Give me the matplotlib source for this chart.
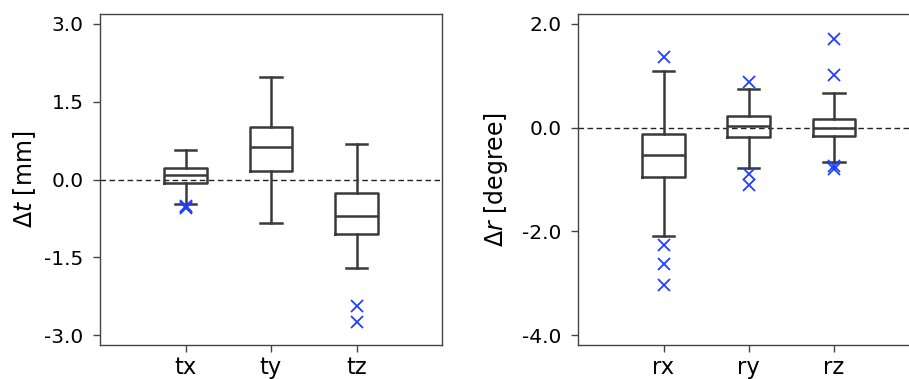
import matplotlib
matplotlib.use("Agg")
import matplotlib.pyplot as plt

# ---- data ----
t_labels = ["tx", "ty", "tz"]
t_q1 = [-0.07, 0.17, -1.06]
t_med = [0.08, 0.62, -0.70]
t_q3 = [0.23, 1.01, -0.26]
t_whislo = [-0.48, -0.83, -1.71]
t_whishi = [0.57, 1.97, 0.69]
t_fliers = [[-0.52, -0.53, -0.54], [], [-2.43, -2.75]]

r_labels = ["rx", "ry", "rz"]
r_q1 = [-0.96, -0.19, -0.17]
r_med = [-0.53, 0.04, -0.01]
r_q3 = [-0.12, 0.22, 0.17]
r_whislo = [-2.08, -0.78, -0.67]
r_whishi = [1.10, 0.74, 0.67]
r_fliers = [[1.36, -2.26, -2.63, -3.04], [0.87, -0.90, -1.11], [1.71, 1.02, -0.74, -0.79]]

t_yticks = [-3.0, -1.5, 0.0, 1.5, 3.0]
r_yticks = [-4.0, -2.0, 0.0, 2.0]

BOX_C = "#3a3a3a"
FLIER_C = "#1f40ff"


def make_stats(labels, q1, med, q3, lo, hi, fl):
    return [dict(label=l, q1=a, med=m, q3=b, whislo=w0, whishi=w1, fliers=f)
            for l, a, m, b, w0, w1, f in zip(labels, q1, med, q3, lo, hi, fl)]


def draw(ax, stats, yticks, ylim, ylabel, label_x):
    lp = dict(color=BOX_C, linewidth=1.8)
    ax.bxp(stats, positions=[1, 2, 3], widths=0.5,
           boxprops=lp, whiskerprops=lp, capprops=lp, medianprops=lp,
           flierprops=dict(marker="x", markeredgecolor=FLIER_C, markersize=8,
                           markeredgewidth=1.3, linestyle="none"))
    ax.axhline(0, color="#222222", linestyle="--", linewidth=1.0, dashes=(4, 2.5), zorder=0)
    ax.set_xlim(0, 4)
    ax.set_ylim(*ylim)
    ax.set_yticks(yticks)
    ax.set_yticklabels([f"{v:.1f}" for v in yticks], fontsize=14.5)
    ax.tick_params(axis="x", labelsize=16.3, length=5, width=1, pad=3, color="#444444")
    ax.tick_params(axis="y", length=5, width=1, pad=7, color="#444444")
    ax.set_ylabel(ylabel, fontsize=17)
    ax.yaxis.set_label_coords(label_x, 0.5)
    for s in ax.spines.values():
        s.set_color("#444444")
        s.set_linewidth(1.0)


fig = plt.figure(figsize=(9.09, 3.79), dpi=100)
H = 379.0
W = 909.0
ax1 = fig.add_axes([100 / W, (H - 345) / H, 342 / W, 331 / H])
ax2 = fig.add_axes([578.3 / W, (H - 345) / H, 341 / W, 331 / H])

draw(ax1, make_stats(t_labels, t_q1, t_med, t_q3, t_whislo, t_whishi, t_fliers),
     t_yticks, (-3.19, 3.19), r"$\Delta t$ [mm]", -0.181)
draw(ax2, make_stats(r_labels, r_q1, r_med, r_q3, r_whislo, r_whishi, r_fliers),
     r_yticks, (-4.19, 2.19), r"$\Delta r$ [degree]", -0.199)

fig.savefig("out.png", dpi=100)
